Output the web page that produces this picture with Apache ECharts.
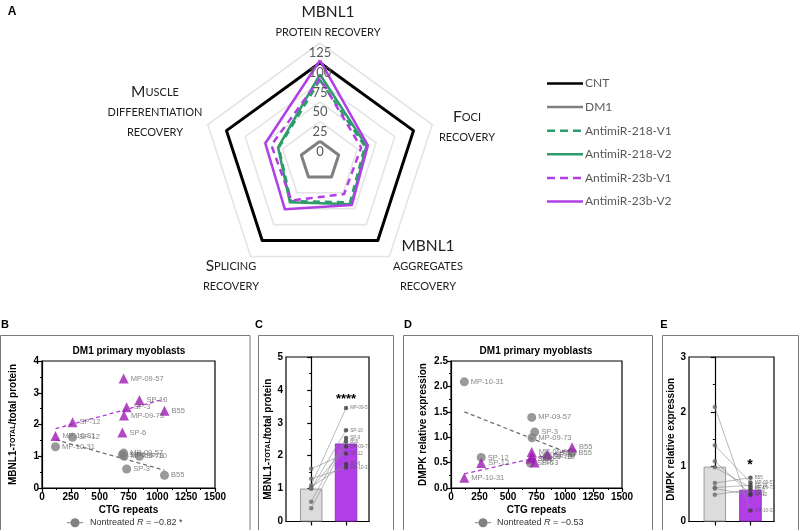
<!DOCTYPE html>
<html><head><meta charset="utf-8">
<script src="https://cdn.jsdelivr.net/npm/echarts@6/dist/echarts.min.js"></script>
<style>html,body{margin:0;padding:0;background:#fff}#c{width:800px;height:530px}</style>
</head><body><div id="c"></div>
<script>
// ================= DATA =================
// Panel A – radar (order: top, upper-left, lower-left, lower-right, upper-right)
const radarIndicators = ['MBNL1\nprotein recovery', 'Muscle\ndifferentiation\nrecovery', 'Splicing\nrecovery', 'MBNL1\naggregates\nrecovery', 'Foci\nrecovery'];
const radarSeriesNames = ['CNT', 'DM1', 'AntimiR-218-V1', 'AntimiR-218-V2', 'AntimiR-23b-V1', 'AntimiR-23b-V2'];
const cntValues    = [100, 100, 100, 100, 100];
const dm1Values    = [0, 0, 0, 0, 0];
const a218v1Values = [78, 30, 38, 40, 35];
const a218v2Values = [85, 31, 40, 43, 37];
const a23bv1Values = [80, 40, 37, 27, 30];
const a23bv2Values = [103, 48, 51, 44, 39];

// Panels B–E
const patients        = ['MP-10-31', 'SP-12', 'SP-6', 'MP-09-57', 'MP-09-73', 'SP-3', 'SP-10', 'B55'];
const ctgRepeats      = [117, 265, 697, 708, 711, 734, 845, 1062];
const mbnlNontreated  = [1.30, 1.60, 1.05, 1.10, 1.00, 0.60, 1.00, 0.40];
const mbnlTreated     = [1.64, 2.07, 1.75, 3.45, 2.28, 2.54, 2.77, 2.43];
const dmpkNontreated  = [2.09, 0.60, 0.49, 1.39, 0.99, 1.10, 0.62, 0.70];
const dmpkTreated     = [0.20, 0.49, 0.58, 0.71, 0.62, 0.50, 0.66, 0.80];
const mbnlTrendNontreated = [[117, 1.52], [1062, 0.56]];
const mbnlTrendTreated    = [[117, 1.87], [1062, 2.80]];
const dmpkTrendNontreated = [[117, 1.50], [1062, 0.66]];
const dmpkTrendTreated    = [[117, 0.28], [1062, 0.75]];
const mbnlMeans = [1.0, 2.37];
const dmpkMeans = [1.0, 0.58];
const groupPositions = [0, 1];
const mbnlStars = '****';
const dmpkStars = '*';
const mbnlLegend = ['Nontreated ', 'R', ' = \u22120.82 *'];
const dmpkLegend = ['Nontreated ', 'R', ' = \u22120.53'];

// ================= STYLE =================
const SANS = 'Liberation Sans';
const RAD = 'Lato';
const PURPLE = '#b13fe6', GREEN = '#2e9b6b', GRAY = '#808080', TRI = '#9c1cb3';
const radarStyles = [
  {color: '#000000', width: 3, type: 'solid'},
  {color: '#7f7f7f', width: 3, type: 'solid'},
  {color: GREEN, width: 2.5, type: [7, 5]},
  {color: GREEN, width: 2.5, type: 'solid'},
  {color: PURPLE, width: 2.5, type: [7, 5]},
  {color: PURPLE, width: 2.5, type: 'solid'}
];
const radarValues = [cntValues, dm1Values, a218v1Values, a218v2Values, a23bv1Values, a23bv2Values];
const radarNamePos = [[328, 22], [155, 112], [231, 276], [428, 266], [467, 127]];

function smallCaps(s) {
  return s.split('\n').map(line => line.replace(/([A-Z0-9]+)|([^A-Z0-9]+)/g,
    (m, up, low) => up ? '{b|' + up + '}' : '{s|' + low.toUpperCase() + '}')).join('\n');
}

const chart = echarts.init(document.getElementById('c'), null, {renderer: 'canvas'});

const tickLabel = {fontFamily: SANS, fontWeight: 'bold', fontSize: 10, color: '#000'};
const axisLineBlack = {show: true, lineStyle: {color: '#000', width: 1.2}};
const nameStyle = {fontFamily: SANS, fontWeight: 'bold', fontSize: 10, color: '#000'};
const yNameRich = {
  a: {fontFamily: SANS, fontWeight: 'bold', fontSize: 10, color: '#000'},
  b: {fontFamily: SANS, fontWeight: 'bold', fontSize: 7, color: '#000'}
};

function gridBox(left, top, width, height) {
  return {left, top, width, height, show: true, borderColor: '#000', borderWidth: 1.2,
          backgroundColor: 'transparent', containLabel: false, outerBoundsMode: 'none'};
}

const grids = [
  // label scale for the radar (same span as radar radius, shifted down by 10px for label placement)
  {left: 320, top: 53, width: 1, height: 118, show: false, containLabel: false, outerBoundsMode: 'none'},
  gridBox(42, 361, 173, 127),
  gridBox(286, 357, 83, 164.5),
  gridBox(451, 361, 171, 127),
  gridBox(689, 357, 85, 164.5)
];

function ctgAxis(gi) {
  return {gridIndex: gi, type: 'value', min: 0, max: 1500, interval: 250,
    name: 'CTG repeats', nameLocation: 'middle', nameGap: 17, nameTextStyle: nameStyle,
    axisLine: axisLineBlack, axisTick: {show: true, length: 4, lineStyle: {color: '#000', width: 1.2}},
    minorTick: {show: true, splitNumber: 2, length: 2, lineStyle: {color: '#000', width: 1}},
    axisLabel: Object.assign({margin: 4, formatter: v => String(v), showMaxLabel: true, showMinLabel: true}, tickLabel), splitLine: {show: false}};
}
function groupAxis(gi) {
  return {gridIndex: gi, type: 'value', min: -0.725, max: 1.66,
    axisLine: axisLineBlack,
    axisTick: {show: true, length: 4, customValues: groupPositions, lineStyle: {color: '#000', width: 1.2}},
    axisLabel: {show: false}, splitLine: {show: false}};
}
function valAxis(gi, max, interval, name, gap, digits) {
  return {gridIndex: gi, type: 'value', min: 0, max, interval,
    name, nameLocation: 'middle', nameRotate: 90, nameGap: gap, nameTextStyle: Object.assign({rich: yNameRich}, nameStyle),
    axisLine: axisLineBlack, axisTick: {show: true, length: 4, lineStyle: {color: '#000', width: 1.2}},
    minorTick: {show: true, splitNumber: 2, length: 2, lineStyle: {color: '#000', width: 1}},
    axisLabel: Object.assign({margin: 3, formatter: v => v.toFixed(digits), showMaxLabel: true}, tickLabel), splitLine: {show: false}};
}

const ptLabel = {show: true, position: 'right', distance: 2, formatter: '{b}', fontFamily: SANS, fontSize: 7.5, color: '#666'};
const tinyLabel = {show: true, position: 'right', distance: 2, formatter: '{b}', fontFamily: SANS, fontSize: 4.5, color: '#555'};

function scatterPanel(xi, yNon, yTr, trendNon, trendTr) {
  return [
    {type: 'line', xAxisIndex: xi, yAxisIndex: xi, data: trendNon, symbol: 'none', silent: true,
     lineStyle: {color: '#6f6f6f', width: 1.3, type: [4, 3]}, z: 2},
    {type: 'line', xAxisIndex: xi, yAxisIndex: xi, data: trendTr, symbol: 'none', silent: true,
     lineStyle: {color: '#b03cd4', width: 1.3, type: [4, 3]}, z: 2},
    {type: 'scatter', xAxisIndex: xi, yAxisIndex: xi, symbol: 'circle', symbolSize: 9,
     itemStyle: {color: GRAY}, label: ptLabel, z: 3,
     data: patients.map((p, i) => ({name: p, value: [ctgRepeats[i], yNon[i]]}))},
    {type: 'scatter', xAxisIndex: xi, yAxisIndex: xi, symbol: 'triangle', symbolSize: 10,
     itemStyle: {color: TRI}, label: ptLabel, z: 4,
     data: patients.map((p, i) => ({name: p, value: [ctgRepeats[i], yTr[i]]}))}
  ];
}
function barPanel(xi, means, yNon, yTr) {
  return [
    {type: 'bar', xAxisIndex: xi, yAxisIndex: xi, barWidth: 22.5, z: 2,
     data: [
       {value: [groupPositions[0], means[0]], itemStyle: {color: '#dcdcdc', borderColor: '#9a9a9a', borderWidth: 1}},
       {value: [groupPositions[1], means[1]], itemStyle: {color: '#b23ee8', borderColor: '#9433c4', borderWidth: 1}}
     ]},
    {type: 'lines', coordinateSystem: 'cartesian2d', xAxisIndex: xi, yAxisIndex: xi, z: 3,
     lineStyle: {color: '#8a8a8a', width: 0.6, opacity: 1},
     data: patients.map((p, i) => ({coords: [[groupPositions[0], yNon[i]], [groupPositions[1], yTr[i]]]}))},
    {type: 'scatter', xAxisIndex: xi, yAxisIndex: xi, symbolSize: 4.5, z: 4,
     itemStyle: {color: '#6a6a6a'},
     data: patients.map((p, i) => ({name: p, value: [groupPositions[0], yNon[i]]}))},
    {type: 'scatter', xAxisIndex: xi, yAxisIndex: xi, symbolSize: 4.5, z: 4,
     itemStyle: {color: '#3c3c3c'}, label: tinyLabel,
     data: patients.map((p, i) => ({name: p, value: [groupPositions[1], yTr[i]]}))}
  ];
}

// ---- graphics: boxes, letters, titles, legends ----
const graphics = [];
function rect(x, y, w, h) {
  graphics.push({type: 'rect', shape: {x, y, width: w, height: h}, style: {fill: 'none', stroke: '#7a7a7a', lineWidth: 1}, silent: true});
}
rect(0.5, 335.5, 249.5, 200);
rect(258.5, 335.5, 135, 200);
rect(403.5, 335.5, 249, 200);
rect(662.5, 335.5, 136, 200);
function txt(text, x, y, font, opts) {
  graphics.push({type: 'text', x, y, silent: true,
    style: Object.assign({text, font, fill: '#000', align: 'center', verticalAlign: 'middle'}, opts || {})});
}
txt('A', 12, 12, 'bold 12px ' + SANS);
txt('B', 5, 325, 'bold 11px ' + SANS);
txt('C', 259, 325, 'bold 11px ' + SANS);
txt('D', 408, 325, 'bold 11px ' + SANS);
txt('E', 664, 325, 'bold 11px ' + SANS);
txt('DM1 primary myoblasts', 129, 351, 'bold 10px ' + SANS);
txt('DM1 primary myoblasts', 536, 351, 'bold 10px ' + SANS);
txt(mbnlStars, 346, 399, 'bold 13px ' + SANS);
txt(dmpkStars, 750, 465, 'bold 14px ' + SANS);

// radar names (small caps)
radarIndicators.forEach((n, i) => {
  graphics.push({type: 'text', x: radarNamePos[i][0], y: radarNamePos[i][1], silent: true,
    style: {text: smallCaps(n), align: 'center', verticalAlign: 'middle', fill: '#1e1e1e',
      rich: {b: {fontFamily: RAD, fontSize: 15.5, lineHeight: 20, fill: '#1e1e1e', color: '#1e1e1e', align: 'center'},
             s: {fontFamily: RAD, fontSize: 11, lineHeight: 20, fill: '#1e1e1e', color: '#1e1e1e', align: 'center'}}}});
});
// radar legend
radarSeriesNames.forEach((n, i) => {
  const y = 83.5 + i * 23.6;
  const st = radarStyles[i];
  graphics.push({type: 'line', silent: true, shape: {x1: 547, y1: y, x2: 583, y2: y},
    style: {stroke: st.color, lineWidth: 2.5, lineDash: Array.isArray(st.type) ? [8, 5] : null}});
  graphics.push({type: 'text', x: 585, y, silent: true,
    style: {text: n, font: '12px ' + RAD, fill: '#595959', align: 'left', verticalAlign: 'middle'}});
});
// scatter legends
function scatterLegend(cx, tx, parts) {
  const y = 522.7;
  graphics.push({type: 'line', silent: true, shape: {x1: cx - 8, y1: y, x2: cx + 8, y2: y}, style: {stroke: GRAY, lineWidth: 1}});
  graphics.push({type: 'circle', silent: true, shape: {cx, cy: y, r: 4.5}, style: {fill: GRAY}});
  graphics.push({type: 'text', x: tx, y, silent: true,
    style: {text: '{n|' + parts[0] + '}{i|' + parts[1] + '}{n|' + parts[2] + '}', align: 'left', verticalAlign: 'middle',
      rich: {n: {fontFamily: SANS, fontSize: 9, fill: '#333'}, i: {fontFamily: SANS, fontSize: 9, fontStyle: 'italic', fill: '#333'}}}});
}
scatterLegend(75, 90, mbnlLegend);
scatterLegend(483, 497, dmpkLegend);

const option = {
  animation: false,
  backgroundColor: '#fff',
  grid: grids,
  radar: {
    center: [320, 161], radius: 118, startAngle: 90, splitNumber: 6, shape: 'polygon',
    indicator: radarIndicators.map(n => ({name: n, min: -25, max: 125})),
    axisName: {show: false},
    splitLine: {lineStyle: {color: '#e4e4e4', width: 1.6}},
    splitArea: {show: false}, axisLine: {show: false}, axisTick: {show: false}, axisLabel: {show: false}
  },
  xAxis: [
    {gridIndex: 0, type: 'value', show: false},
    ctgAxis(1), groupAxis(2), ctgAxis(3), groupAxis(4)
  ],
  yAxis: [
    {gridIndex: 0, type: 'value', min: -25, max: 125, interval: 25, z: 10,
     axisLine: {show: false}, axisTick: {show: false}, splitLine: {show: false},
     axisLabel: {show: true, margin: 0, align: 'center', verticalAlign: 'middle',
       showMaxLabel: true, showMinLabel: true, hideOverlap: false,
       formatter: v => v < 0 ? '' : String(v), fontFamily: RAD, fontSize: 13, color: '#595959'}},
    valAxis(1, 4, 1, '{a|MBNL1-}{b|TOTAL}{a|/total protein}', 24, 0),
    valAxis(2, 5, 1, '{a|MBNL1-}{b|TOTAL}{a|/total protein}', 8, 0),
    valAxis(3, 2.5, 0.5, 'DMPK relative expression', 23, 1),
    valAxis(4, 3, 1, 'DMPK relative expression', 8, 0)
  ],
  graphic: graphics,
  series: [
    {type: 'radar', symbol: 'none', z: 3,
     data: radarSeriesNames.map((n, i) => ({name: n, value: radarValues[i], lineStyle: radarStyles[i], itemStyle: {color: radarStyles[i].color}}))},
    ...scatterPanel(1, mbnlNontreated, mbnlTreated, mbnlTrendNontreated, mbnlTrendTreated),
    ...barPanel(2, mbnlMeans, mbnlNontreated, mbnlTreated),
    ...scatterPanel(3, dmpkNontreated, dmpkTreated, dmpkTrendNontreated, dmpkTrendTreated),
    ...barPanel(4, dmpkMeans, dmpkNontreated, dmpkTreated)
  ]
};
chart.setOption(option);
</script></body></html>
